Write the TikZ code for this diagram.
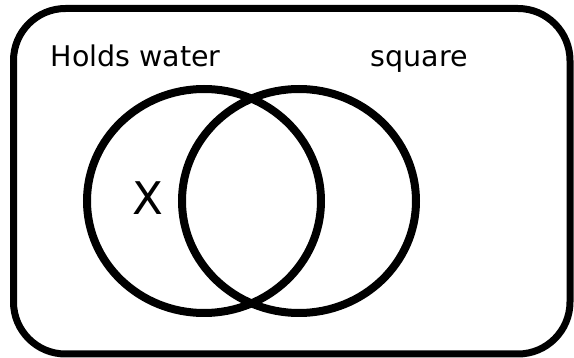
\documentclass[tikz,border=0pt]{standalone}
\usepackage{fontspec}
\setmainfont{DejaVu Sans}
\usetikzlibrary{shapes.geometric}
\begin{document}
\begin{tikzpicture}[x=1pt,y=-1pt,
  frame/.style={draw,line width=7pt,rectangle,rounded corners=52pt,inner sep=0pt,
    minimum width=556.5pt,minimum height=345.5pt},
  setoval/.style={draw,line width=8pt,ellipse,inner sep=0pt,
    minimum width=234pt,minimum height=224pt},
  lbl/.style={anchor=base west,inner sep=0pt,font=\fontsize{28.5pt}{34pt}\selectfont},
  bigx/.style={anchor=base west,inner sep=0pt,font=\fontsize{45pt}{54pt}\selectfont}]
\useasboundingbox (0,0) rectangle (574,358);
\node[frame] (universe) at (291.75,181.25) {};
\node[setoval] (water) at (204,201) {};
\node[setoval] (square) at (299,201) {};
\node[lbl] (waterlabel) at (50.5,67) {Holds water};
\node[lbl] (squarelabel) at (370.5,67) {square};
\node[bigx] (xmark) at (132.7,215) {X};
\end{tikzpicture}
\end{document}
